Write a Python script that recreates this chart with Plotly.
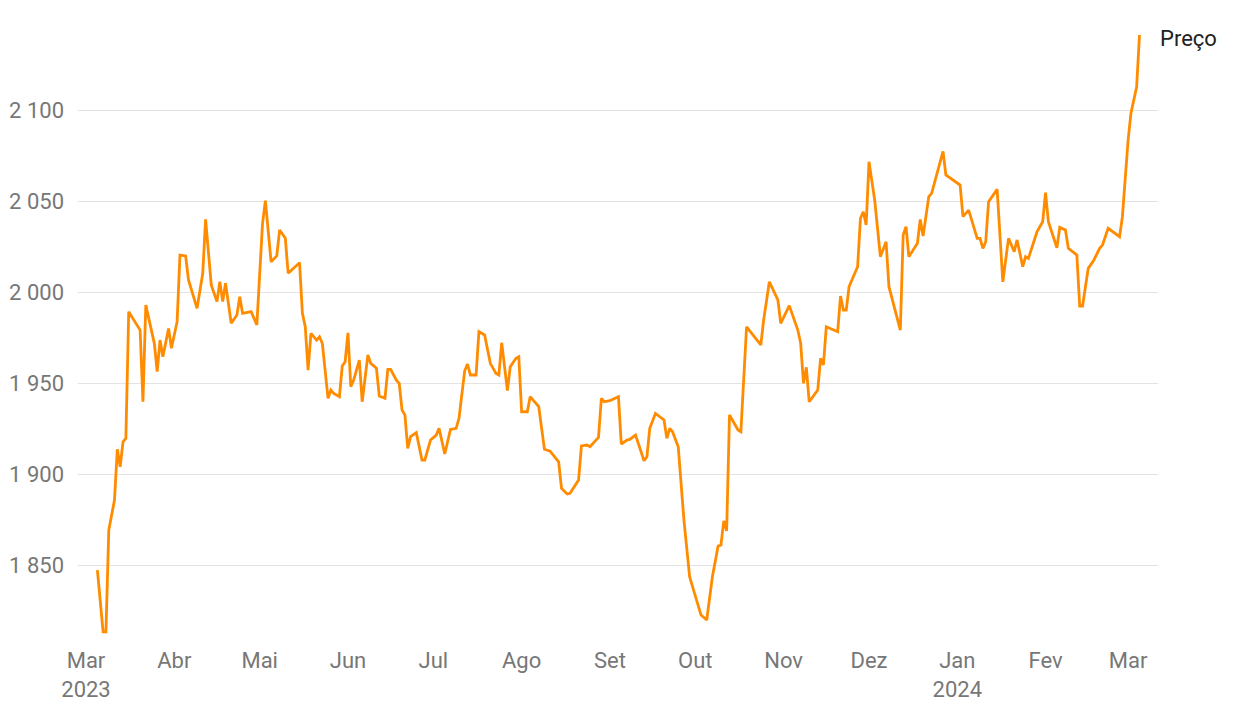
import plotly.graph_objects as go

dates = [
    "2023-03-05", "2023-03-07", "2023-03-08", "2023-03-09", "2023-03-11", "2023-03-12",
    "2023-03-13", "2023-03-14", "2023-03-15", "2023-03-16", "2023-03-20", "2023-03-21",
    "2023-03-22", "2023-03-25", "2023-03-26", "2023-03-27", "2023-03-28", "2023-03-30",
    "2023-03-31", "2023-04-02", "2023-04-03", "2023-04-05", "2023-04-06", "2023-04-09",
    "2023-04-11", "2023-04-12", "2023-04-14", "2023-04-16", "2023-04-17", "2023-04-18",
    "2023-04-19", "2023-04-21", "2023-04-23", "2023-04-24", "2023-04-25", "2023-04-28",
    "2023-04-30", "2023-05-02", "2023-05-03", "2023-05-05", "2023-05-07", "2023-05-08",
    "2023-05-10", "2023-05-11", "2023-05-15", "2023-05-16", "2023-05-17", "2023-05-18",
    "2023-05-19", "2023-05-21", "2023-05-22", "2023-05-23", "2023-05-25", "2023-05-26",
    "2023-05-27", "2023-05-29", "2023-05-30", "2023-05-31", "2023-06-01", "2023-06-02",
    "2023-06-03", "2023-06-05", "2023-06-06", "2023-06-08", "2023-06-09", "2023-06-11",
    "2023-06-12", "2023-06-14", "2023-06-15", "2023-06-16", "2023-06-18", "2023-06-19",
    "2023-06-20", "2023-06-21", "2023-06-22", "2023-06-23", "2023-06-25", "2023-06-27",
    "2023-06-28", "2023-06-30", "2023-07-02", "2023-07-03", "2023-07-05", "2023-07-07",
    "2023-07-09", "2023-07-10", "2023-07-12", "2023-07-13", "2023-07-14", "2023-07-16",
    "2023-07-17", "2023-07-19", "2023-07-21", "2023-07-23", "2023-07-24", "2023-07-25",
    "2023-07-27", "2023-07-28", "2023-07-30", "2023-07-31", "2023-08-01", "2023-08-03",
    "2023-08-04", "2023-08-07", "2023-08-09", "2023-08-11", "2023-08-14", "2023-08-15",
    "2023-08-17", "2023-08-18", "2023-08-21", "2023-08-22", "2023-08-24", "2023-08-25",
    "2023-08-28", "2023-08-29", "2023-08-30", "2023-09-01", "2023-09-04", "2023-09-05",
    "2023-09-07", "2023-09-08", "2023-09-10", "2023-09-13", "2023-09-14", "2023-09-15",
    "2023-09-17", "2023-09-20", "2023-09-21", "2023-09-22", "2023-09-23", "2023-09-25",
    "2023-09-27", "2023-09-29", "2023-10-03", "2023-10-05", "2023-10-07", "2023-10-09",
    "2023-10-10", "2023-10-11", "2023-10-12", "2023-10-13", "2023-10-16", "2023-10-17",
    "2023-10-19", "2023-10-24", "2023-10-25", "2023-10-27", "2023-10-30", "2023-10-31",
    "2023-11-03", "2023-11-06", "2023-11-07", "2023-11-08", "2023-11-09", "2023-11-10",
    "2023-11-13", "2023-11-14", "2023-11-15", "2023-11-16", "2023-11-20", "2023-11-21",
    "2023-11-22", "2023-11-23", "2023-11-24", "2023-11-27", "2023-11-28", "2023-11-29",
    "2023-11-30", "2023-12-01", "2023-12-03", "2023-12-05", "2023-12-07", "2023-12-08",
    "2023-12-12", "2023-12-13", "2023-12-14", "2023-12-15", "2023-12-18", "2023-12-19",
    "2023-12-20", "2023-12-22", "2023-12-23", "2023-12-25", "2023-12-27", "2023-12-28",
    "2024-01-02", "2024-01-03", "2024-01-05", "2024-01-08", "2024-01-09", "2024-01-10",
    "2024-01-11", "2024-01-12", "2024-01-15", "2024-01-17", "2024-01-19", "2024-01-21",
    "2024-01-22", "2024-01-24", "2024-01-25", "2024-01-26", "2024-01-29", "2024-01-31",
    "2024-02-01", "2024-02-02", "2024-02-05", "2024-02-06", "2024-02-08", "2024-02-09",
    "2024-02-12", "2024-02-13", "2024-02-14", "2024-02-16", "2024-02-18", "2024-02-20",
    "2024-02-21", "2024-02-23", "2024-02-27", "2024-02-28", "2024-03-01", "2024-03-02",
    "2024-03-04", "2024-03-05",
]

prices = [
    1847.2, 1813.3, 1813.3, 1869.2, 1885.7, 1913.6,
    1904.0, 1917.7, 1919.6, 1989.2, 1979.1, 1939.7,
    1992.8, 1971.8, 1956.2, 1973.6, 1964.4, 1980.0,
    1969.1, 1983.7, 2020.3, 2019.8, 2006.6, 1991.0,
    2010.3, 2039.9, 2003.8, 1994.7, 2005.7, 1994.7,
    2004.8, 1982.8, 1987.4, 1997.4, 1988.3, 1989.2,
    1981.9, 2037.7, 2050.2, 2016.6, 2019.8, 2034.1,
    2029.5, 2010.3, 2016.1, 1988.3, 1980.9, 1957.1,
    1977.3, 1973.6, 1975.4, 1971.8, 1941.6, 1946.1,
    1944.3, 1942.5, 1959.3, 1961.7, 1977.6, 1948.0,
    1951.6, 1962.6, 1939.7, 1965.4, 1960.8, 1958.1,
    1942.8, 1941.6, 1957.5, 1957.5, 1951.6, 1949.8,
    1935.1, 1932.4, 1914.1, 1920.5, 1922.7, 1907.7,
    1907.7, 1918.7, 1921.4, 1925.1, 1911.0, 1924.5,
    1925.1, 1930.6, 1956.7, 1960.4, 1954.4, 1954.4,
    1978.2, 1976.4, 1960.8, 1955.3, 1954.4, 1972.1,
    1945.8, 1958.9, 1963.6, 1964.4, 1934.2, 1934.2,
    1942.5, 1937.0, 1913.6, 1912.6, 1906.7, 1892.1,
    1889.0, 1889.4, 1896.7, 1915.4, 1915.9, 1915.0,
    1920.1, 1941.6, 1939.7, 1940.3, 1942.5, 1916.5,
    1918.7, 1919.0, 1921.4, 1907.3, 1909.5, 1925.1,
    1933.3, 1929.7, 1919.6, 1925.1, 1923.2, 1915.0,
    1874.7, 1843.5, 1822.5, 1819.8, 1843.5, 1860.4,
    1861.0, 1874.3, 1868.7, 1932.4, 1924.2, 1923.2,
    1980.9, 1970.9, 1984.6, 2005.6, 1995.6, 1982.8,
    1992.5, 1979.1, 1971.8, 1949.8, 1958.6, 1939.7,
    1946.1, 1963.6, 1959.9, 1980.9, 1978.2, 1997.8,
    1990.1, 1990.1, 2002.9, 2013.9, 2040.5, 2044.1,
    2036.8, 2071.6, 2050.5, 2019.4, 2027.6, 2002.9,
    1979.1, 2031.3, 2035.9, 2019.4, 2026.8, 2039.9,
    2030.8, 2052.4, 2054.2, 2065.9, 2077.3, 2064.3,
    2058.8, 2041.4, 2045.0, 2029.5, 2029.5, 2024.0,
    2027.6, 2049.6, 2056.4, 2005.6, 2029.5, 2022.1,
    2028.6, 2013.9, 2019.4, 2018.5, 2033.1, 2038.6,
    2054.6, 2038.6, 2024.3, 2035.5, 2034.1, 2024.0,
    2020.3, 1992.3, 1992.3, 2013.0, 2017.6, 2024.0,
    2025.8, 2035.0, 2030.4, 2041.4, 2083.5, 2098.2,
    2112.8, 2141.2,
]

series_name = "Preço"

tick_dates = [
    "2023-03-01", "2023-04-01", "2023-05-01", "2023-06-01", "2023-07-01",
    "2023-08-01", "2023-09-01", "2023-10-01", "2023-11-01", "2023-12-01",
    "2024-01-01", "2024-02-01", "2024-03-01",
]
tick_labels = [
    "Mar<br>2023", "Abr", "Mai", "Jun", "Jul", "Ago", "Set", "Out",
    "Nov", "Dez", "Jan<br>2024", "Fev", "Mar",
]
y_ticks = [1850, 1900, 1950, 2000, 2050, 2100]

FONT = "Roboto, Arial, sans-serif"

fig = go.Figure()
fig.add_trace(go.Scatter(
    x=dates, y=prices, mode="lines", name=series_name,
    line=dict(color="#FF8C00", width=2.8),
    showlegend=False,
))

fig.add_annotation(
    x=dates[-1], y=prices[-1], text=series_name, showarrow=False,
    xanchor="left", yanchor="middle", xshift=19, yshift=-3,
    font=dict(family=FONT, size=22, color="#222222"),
)

fig.update_layout(
    width=1236, height=713,
    margin=dict(l=70, r=86, t=12, b=81, autoexpand=False),
    paper_bgcolor="white", plot_bgcolor="white",
    separators=", ",
    font=dict(family=FONT, size=22, color="#777777"),
    xaxis=dict(
        type="date", automargin=False,
        range=["2023-02-26 04:30", "2024-03-11 12:00"],
        tickmode="array", tickvals=tick_dates, ticktext=tick_labels,
        showgrid=False, zeroline=False, showline=False, ticks="",
        ticklabelstandoff=5,
        tickfont=dict(family=FONT, size=22, color="#777777"),
    ),
    yaxis=dict(
        automargin=False,
        range=[1808.8, 2149.45],
        tickmode="array", tickvals=y_ticks, tickformat=",d",
        showgrid=True, gridcolor="#e3e3e3", gridwidth=1,
        zeroline=False, showline=False, ticks="",
        ticklabelstandoff=13,
        tickfont=dict(family=FONT, size=22, color="#777777"),
    ),
)

fig.write_html("out.html")
